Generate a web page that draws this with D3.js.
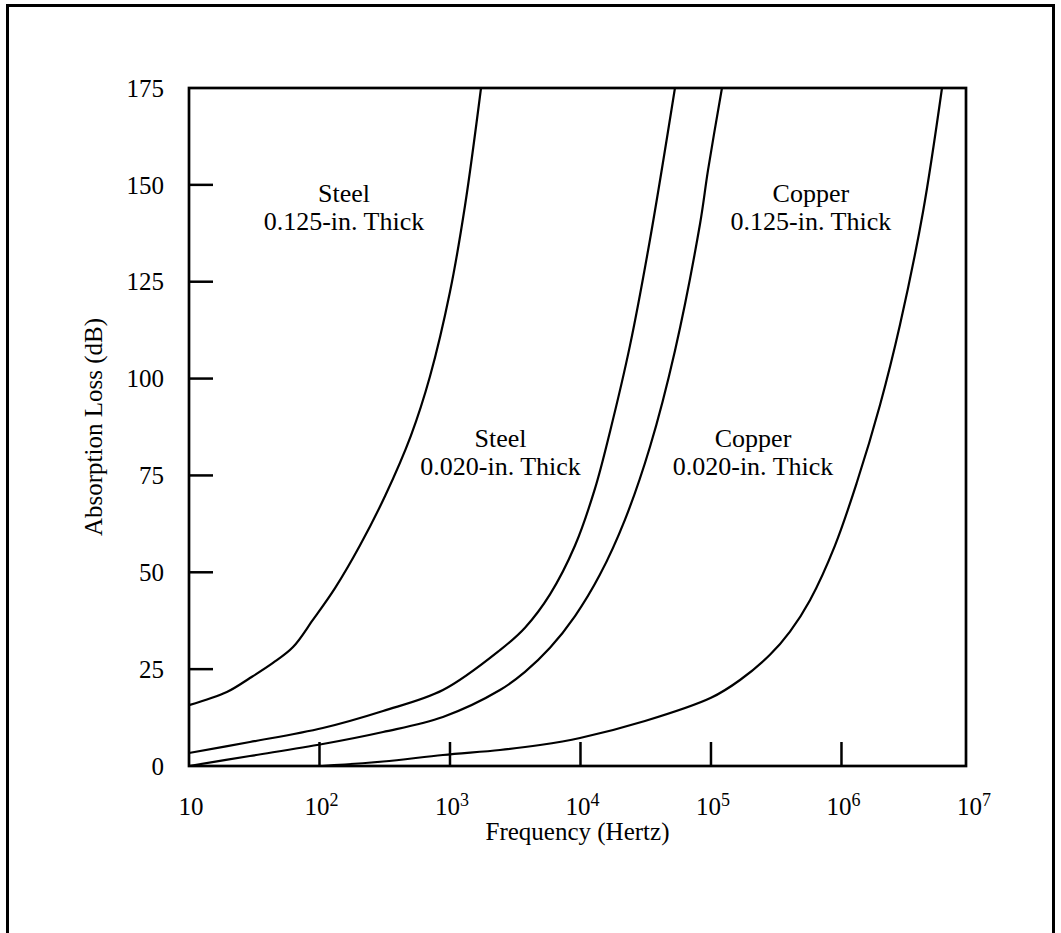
<!DOCTYPE html>
<html>
<head>
<meta charset="utf-8">
<script src="https://cdn.jsdelivr.net/npm/d3@7"></script>
<style>
  body { margin: 0; background: #fff; }
  text { font-family: "Liberation Serif", "Times New Roman", serif; fill: #000; }
</style>
</head>
<body>
<div id="chart"></div>
<script>
// values: frequency (Hz) and absorption loss (dB)
var steel125Freq = [10, 19.5, 29.3, 44, 62.7, 89, 131.5, 204, 318, 502, 703, 1000, 1303, 1729];
var steel125Loss = [15.7, 19.1, 22.7, 26.6, 30.7, 37.7, 45.9, 56.9, 69.7, 85.3, 100.6, 122.4, 144.6, 175];

var steel020Freq = [10, 29.3, 106, 307, 883, 2415, 3757, 5840, 9080, 12910, 16830, 23940, 34100, 52970];
var steel020Loss = [3.36, 6.19, 9.81, 14.2, 19.6, 29.9, 35.7, 44.3, 56.9, 71.6, 86.3, 108.5, 135.9, 175];

var copper125Freq = [10, 29.3, 106, 307, 883, 2415, 3757, 5840, 9080, 14100, 21930, 34100, 52970, 82400, 94900, 121400];
var copper125Loss = [0, 2.58, 5.68, 8.78, 12.65, 19.6, 24.3, 30.5, 38.7, 49.4, 63.6, 82.4, 107.2, 139.9, 153.8, 175];

var copper020Freq = [105, 307, 883, 2415, 4900, 9910, 31190, 100000, 166900, 283000, 403000, 573700, 891300, 1315000, 1974000, 2808000, 4213000, 5893000];
var copper020Loss = [0, 1.16, 2.84, 4.13, 5.42, 7.23, 11.6, 17.6, 22.2, 28.7, 34.7, 42.8, 56.9, 73.3, 93.2, 113.9, 143.0, 175];

var yTicks = [0, 25, 50, 75, 100, 125, 150, 175];
var xTickExp = [1, 2, 3, 4, 5, 6, 7];

var labels = [
  { lines: ["Steel", "0.125-in. Thick"], f: 154, v: 145.6 },
  { lines: ["Steel", "0.020-in. Thick"], f: 2440, v: 82.3 },
  { lines: ["Copper", "0.020-in. Thick"], f: 210000, v: 82.3 },
  { lines: ["Copper", "0.125-in. Thick"], f: 583000, v: 145.6 }
];

var series = [
  { f: steel125Freq, v: steel125Loss },
  { f: steel020Freq, v: steel020Loss },
  { f: copper125Freq, v: copper125Loss },
  { f: copper020Freq, v: copper020Loss }
];

var svgWidth = 1061, svgHeight = 933;
var plotLeft = 189, plotRight = 966, plotTop = 88, plotBottom = 766;

var svg = d3.select("#chart").append("svg")
  .attr("width", svgWidth)
  .attr("height", svgHeight);

// outer frame
svg.append("rect")
  .attr("x", 7.5).attr("y", 5.5)
  .attr("width", 1046).attr("height", 1000)
  .attr("fill", "none").attr("stroke", "#000").attr("stroke-width", 3);

var x = d3.scaleLog().domain([10, 9e6]).range([plotLeft, plotRight]);
var y = d3.scaleLinear().domain([0, 175]).range([plotBottom, plotTop]);

// plot box
svg.append("rect")
  .attr("x", plotLeft).attr("y", plotTop)
  .attr("width", plotRight - plotLeft).attr("height", plotBottom - plotTop)
  .attr("fill", "none").attr("stroke", "#000").attr("stroke-width", 2.7);

// y ticks, drawn inward
svg.selectAll(".ytick")
  .data(yTicks.filter(function(d) { return d > 0 && d < 175; }))
  .enter().append("line")
  .attr("x1", plotLeft).attr("x2", plotLeft + 24)
  .attr("y1", function(d) { return y(d); })
  .attr("y2", function(d) { return y(d); })
  .attr("stroke", "#000").attr("stroke-width", 2.5);

svg.selectAll(".ylab")
  .data(yTicks)
  .enter().append("text")
  .attr("x", 164)
  .attr("y", function(d) { return y(d); })
  .attr("dy", "0.35em")
  .attr("text-anchor", "end")
  .style("font-size", "25px")
  .text(function(d) { return d; });

// x ticks
svg.selectAll(".xtick")
  .data(xTickExp.filter(function(d) { return d > 1 && d < 7; }))
  .enter().append("line")
  .attr("x1", function(d) { return x(Math.pow(10, d)); })
  .attr("x2", function(d) { return x(Math.pow(10, d)); })
  .attr("y1", plotBottom).attr("y2", plotBottom - 24)
  .attr("stroke", "#000").attr("stroke-width", 2.5);

var xl = svg.selectAll(".xlab")
  .data(xTickExp)
  .enter().append("text")
  .attr("x", function(d) { return x(Math.pow(10, d)) + 2; })
  .attr("y", 815)
  .attr("text-anchor", "middle")
  .style("font-size", "25px");
xl.append("tspan").text("10");
xl.filter(function(d) { return d > 1; })
  .append("tspan")
  .attr("dy", -9)
  .style("font-size", "18px")
  .text(function(d) { return d; });

// axis titles
svg.append("text")
  .attr("transform", "translate(102," + ((plotTop + plotBottom) / 2) + ") rotate(-90)")
  .attr("text-anchor", "middle")
  .style("font-size", "25px")
  .text("Absorption Loss (dB)");

svg.append("text")
  .attr("x", (plotLeft + plotRight) / 2)
  .attr("y", 840)
  .attr("text-anchor", "middle")
  .style("font-size", "25px")
  .text("Frequency (Hertz)");

// curves
var line = d3.line()
  .x(function(d) { return x(d[0]); })
  .y(function(d) { return y(d[1]); })
  .curve(d3.curveCatmullRom.alpha(0.5));

svg.selectAll(".curve")
  .data(series)
  .enter().append("path")
  .attr("d", function(s) { return line(d3.zip(s.f, s.v)); })
  .attr("fill", "none")
  .attr("stroke", "#000")
  .attr("stroke-width", 2.2);

// curve labels
var lab = svg.selectAll(".lab")
  .data(labels)
  .enter().append("text")
  .attr("text-anchor", "middle")
  .style("font-size", "26px");
lab.selectAll("tspan")
  .data(function(d) { return d.lines.map(function(t, i) { return { t: t, i: i, d: d }; }); })
  .enter().append("tspan")
  .attr("x", function(o) { return x(o.d.f); })
  .attr("y", function(o) { return y(o.d.v) + o.i * 28; })
  .text(function(o) { return o.t; });
</script>
</body>
</html>
